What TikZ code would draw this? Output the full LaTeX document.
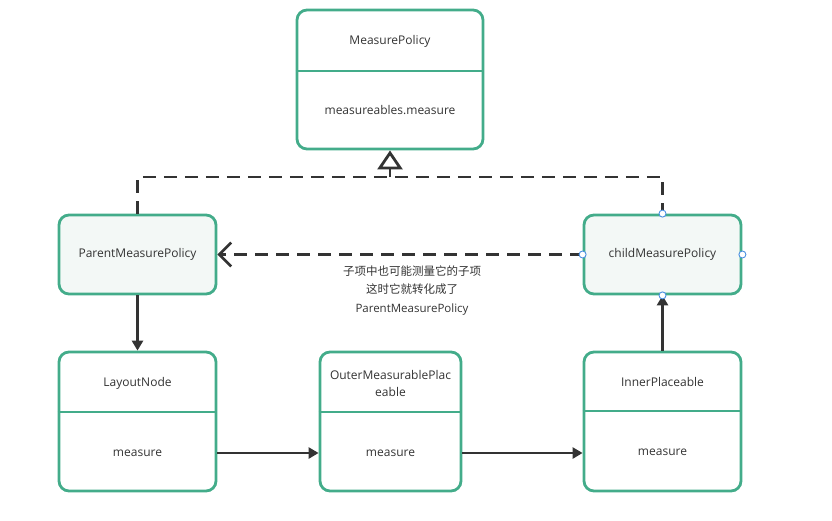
\documentclass[tikz,border=0pt]{standalone}
\usepackage{fontspec}
\setmainfont{Open Sans}
\newfontfamily\cjk{Noto Sans CJK SC}
\usetikzlibrary{arrows.meta}
\definecolor{boxgreen}{RGB}{67,172,138}
\definecolor{boxfill}{RGB}{243,248,246}
\definecolor{linedark}{RGB}{51,51,51}
\definecolor{handleblue}{RGB}{74,144,226}
\tikzset{
  x=1pt, y=-1pt,
  every node/.style={font=\fontsize{12}{14}\selectfont, text=linedark},
  classbox/.style={draw=boxgreen, line width=2.8pt, rounded corners=10pt, minimum width=#1, minimum height=139pt, inner sep=0pt},
  simplebox/.style={draw=boxgreen, fill=boxfill, line width=2.8pt, rounded corners=10pt, minimum width=157pt, minimum height=79pt, inner sep=0pt},
  divider/.style={draw=boxgreen, line width=2.8pt},
  flow/.style={draw=linedark, line width=2.6pt, -{Triangle[length=10pt,width=11pt]}},
  dashline/.style={draw=linedark, line width=2.6pt, dash pattern=on 13pt off 8pt},
  realize/.style={dashline, -{Triangle[open,length=19pt,width=25pt,line width=2.8pt]}},
  dep/.style={dashline, -{Straight Barb[length=12pt,width=24pt,line width=2.6pt]}},
  handle/.style={circle, draw=handleblue, fill=white, line width=0.9pt, minimum size=7pt, inner sep=0pt}
}
\begin{document}
\begin{tikzpicture}
\useasboundingbox (0,0) rectangle (832,520);
% MeasurePolicy
\node[classbox=186pt] (mp) at (390,79.5) {};
\draw[divider] (mp.west |- 0,71) -- (mp.east |- 0,71);
\node (mpt) at (390,41) {MeasurePolicy};
\node (mpm) at (390,110) {measureables.measure};
% simple boxes
\node[simplebox] (pmp) at (137.5,254.5) {ParentMeasurePolicy};
\node[simplebox] (cmp) at (662.5,254.5) {childMeasurePolicy};
% class boxes bottom
\node[classbox=157pt] (ln) at (137.5,421.5) {};
\draw[divider] (ln.west |- 0,412) -- (ln.east |- 0,412);
\node (lnt) at (137.5,383) {LayoutNode};
\node (lnm) at (137.5,453) {measure};
\node[classbox=141pt] (omp) at (390.5,421.5) {};
\draw[divider] (omp.west |- 0,412) -- (omp.east |- 0,412);
\node[align=center, font=\fontsize{12}{17}\selectfont] (ompt) at (390.5,383.5) {OuterMeasurablePlac\\eable};
\node (ompm) at (390.5,453) {measure};
\node[classbox=157pt] (ip) at (662.5,421.5) {};
\draw[divider] (ip.west |- 0,411) -- (ip.east |- 0,411);
\node (ipt) at (662.5,382) {InnerPlaceable};
\node (ipm) at (662.5,452) {measure};
% connectors
\coordinate (rj) at (390,177);
\draw[dashline] (pmp.north) -- (pmp.north |- rj) -- (cmp.north |- rj) -- (cmp.north);
\draw[realize] (rj) -- (mp.south);
\draw[dep] (cmp.west) -- (pmp.east);
\draw[flow] (pmp.south) -- (ln.north);
\draw[flow] (ln.east |- lnm) -- (omp.west |- lnm);
\draw[flow] (omp.east |- lnm) -- (ip.west |- lnm);
\draw[flow] (ip.north) -- (cmp.south);
% handles
\node[handle] (h1) at (cmp.north) {};
\node[handle] (h2) at (cmp.west) {};
\node[handle] (h3) at (cmp.east) {};
\node[handle] (h4) at (cmp.south) {};
% label
\node[align=center, font=\fontsize{11.5}{18.5}\selectfont] (lbl) at (412,290.5) {{\cjk 子项中也可能测量它的子项}\\{\cjk 这时它就转化成了}\\ParentMeasurePolicy};
\end{tikzpicture}
\end{document}
